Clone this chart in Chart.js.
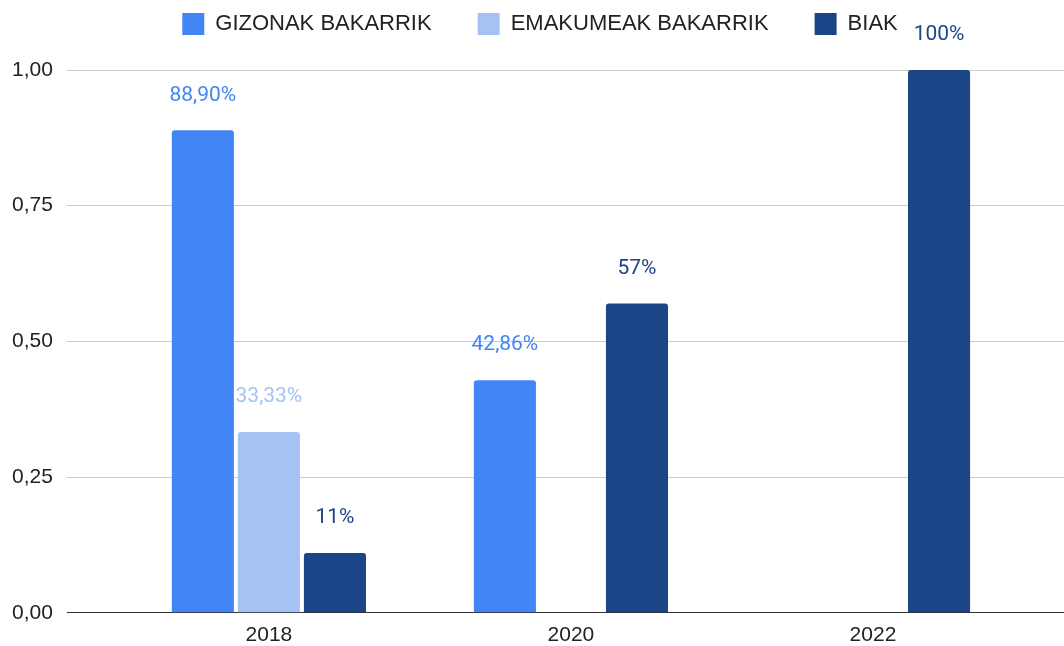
<!DOCTYPE html>
<html>
<head>
<meta charset="utf-8">
<script src="https://cdn.jsdelivr.net/npm/chart.js@4"></script>
<style>
  html, body { margin: 0; padding: 0; background: #fff; }
  #wrap { width: 1064px; height: 646px; position: relative; }
</style>
</head>
<body>
<div id="wrap"><canvas id="c"></canvas></div>
<script>
const categories = ['2018', '2020', '2022'];
const seriesNames = ['GIZONAK BAKARRIK', 'EMAKUMEAK BAKARRIK', 'BIAK'];
const gizonak = [0.889, 0.4286, null];
const emakumeak = [0.3333, null, null];
const biak = [0.11, 0.57, 1.0];
const gizonakLabels = ['88,90%', '42,86%', null];
const emakumeakLabels = ['33,33%', null, null];
const biakLabels = ['11%', '57%', '100%'];
const yTicks = [0, 0.25, 0.5, 0.75, 1];

const colors = ['#4285F4', '#A4C2F4', '#1C4587'];
const valueLabels = [gizonakLabels, emakumeakLabels, biakLabels];

const gridColor = (ctx) => (ctx.tick && ctx.tick.value === 0) ? '#333333' : '#CCCCCC';

const labelPlugin = {
  id: 'valueLabels',
  afterDatasetsDraw(chart) {
    const ctx = chart.ctx;
    ctx.save();
    ctx.font = '21px Roboto';
    ctx.textAlign = 'center';
    ctx.textBaseline = 'middle';
    chart.data.datasets.forEach((ds, di) => {
      const meta = chart.getDatasetMeta(di);
      meta.data.forEach((bar, i) => {
        const txt = valueLabels[di][i];
        if (ds.data[i] == null || !txt) return;
        ctx.fillStyle = colors[di];
        ctx.fillText(txt, bar.x, bar.y - 35);
      });
    });
    ctx.restore();
  }
};

// Legend placement: keep wide horizontal spacing but a compact band at the top
const LEGEND_HEIGHT = 70;
const LEGEND_SHIFT_Y = -33;
const LEGEND_SHIFT_X = 9;
const legendPlacement = {
  id: 'legendPlacement',
  beforeLayout(chart) {
    const lg = chart.legend;
    if (lg && !lg._fitWrapped) {
      const orig = lg.fit;
      lg.fit = function () { orig.call(this); this.height = LEGEND_HEIGHT; };
      lg._fitWrapped = true;
    }
  },
  afterLayout(chart) {
    const lg = chart.legend;
    if (!lg) return;
    lg.top += LEGEND_SHIFT_Y;
    lg.left += LEGEND_SHIFT_X; lg.right += LEGEND_SHIFT_X;
  }
};

new Chart(document.getElementById('c'), {
  type: 'bar',
  data: {
    labels: categories,
    datasets: [
      { label: seriesNames[0], data: gizonak, backgroundColor: colors[0] },
      { label: seriesNames[1], data: emakumeak, backgroundColor: colors[1] },
      { label: seriesNames[2], data: biak, backgroundColor: colors[2] }
    ]
  },
  options: {
    responsive: true,
    maintainAspectRatio: false,
    animation: false,
    devicePixelRatio: 1,
    layout: { padding: { left: -2, right: 0, top: 0, bottom: -12 } },
    datasets: {
      bar: {
        categoryPercentage: 0.656,
        barPercentage: 0.94,
        borderRadius: { topLeft: 3, topRight: 3, bottomLeft: 0, bottomRight: 0 },
        borderSkipped: false
      }
    },
    plugins: {
      legend: {
        position: 'top',
        align: 'center',
        labels: {
          boxWidth: 22,
          boxHeight: 22,
          padding: 46,
          color: '#222222',
          font: { family: '"Liberation Sans", Arial, sans-serif', size: 22 }
        }
      },
      tooltip: { enabled: false }
    },
    scales: {
      x: {
        grid: { display: false, drawTicks: false },
        border: { display: true, color: '#333333', width: 1 },
        ticks: {
          color: '#222222',
          padding: 10,
          font: { family: '"Liberation Sans", Arial, sans-serif', size: 21 }
        }
      },
      y: {
        min: 0,
        max: 1,
        position: 'left',
        afterBuildTicks: (scale) => { scale.ticks = yTicks.map(v => ({ value: v })); },
        grid: { color: gridColor, tickColor: gridColor, tickLength: 51, drawTicks: true },
        border: { display: false },
        ticks: {
          color: '#222222',
          padding: 14,
          font: { family: '"Liberation Sans", Arial, sans-serif', size: 21 },
          callback: (v) => v.toFixed(2).replace('.', ',')
        }
      },
      y2: {
        min: 0,
        max: 1,
        position: 'right',
        afterBuildTicks: (scale) => { scale.ticks = yTicks.map(v => ({ value: v })); },
        grid: { color: gridColor, tickColor: gridColor, tickLength: 40, drawTicks: true, drawOnChartArea: false },
        border: { display: false },
        ticks: { display: false }
      }
    }
  },
  plugins: [labelPlugin, legendPlacement]
});
</script>
</body>
</html>
